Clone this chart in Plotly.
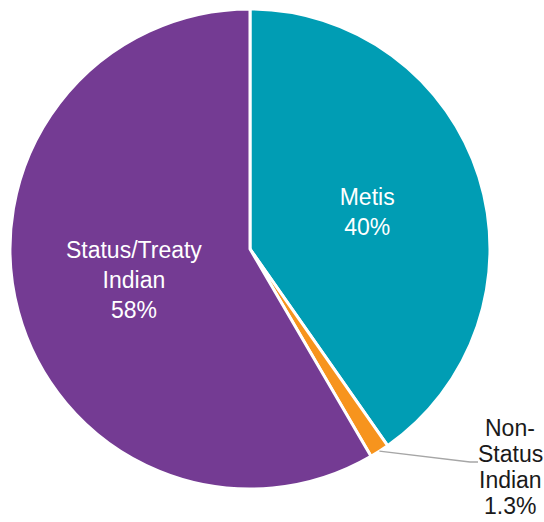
import math
import plotly.graph_objects as go

# Share of respondents by identity group
labels = ["Metis", "Non-Status Indian", "Status/Treaty Indian"]
display_labels = ["Metis", "Non-<br>Status<br>Indian", "Status/Treaty<br>Indian"]
values = [40, 1.3, 58]
colors = ["#009DB4", "#F7941D", "#743B93"]

W, H = 544, 522
cx, cy, r = 250, 249, 240
FONT = "Liberation Sans, Arial, sans-serif"

texts = [f"{d}<br>{v:g}%" for d, v in zip(display_labels, values)]
inside_text = [t if v >= 5 else "" for t, v in zip(texts, values)]

fig = go.Figure(
    go.Pie(
        labels=labels,
        values=values,
        text=inside_text,
        textinfo="text",
        textposition="inside",
        insidetextorientation="horizontal",
        sort=False,
        direction="clockwise",
        rotation=0,
        marker=dict(colors=colors, line=dict(color="white", width=3)),
        textfont=dict(family=FONT, size=23, color="white"),
        showlegend=False,
        hoverinfo="label+value",
        domain=dict(
            x=[(cx - r) / W, (cx + r) / W],
            y=[1 - (cy + r) / H, 1 - (cy - r) / H],
        ),
    )
)

# Outside label with a leader line for the small slice
total = sum(values)
start = sum(values[:1]) / total
mid = (start + values[1] / total / 2) * 2 * math.pi
x0 = cx + r * math.sin(mid)
y0 = cy - r * math.cos(mid)
elbow_x, elbow_y = 470, 462
fig.add_shape(
    type="path",
    path=f"M {x0/W} {1-y0/H} L {elbow_x/W} {1-elbow_y/H} L {(elbow_x+8)/W} {1-elbow_y/H}",
    xref="paper", yref="paper",
    line=dict(color="#A6A6A6", width=1.5),
)
# tighter line spacing than <br> gives, one annotation per line
outside_lines = texts[1].split("<br>")
line_top, line_step = 428, 26
for i, line in enumerate(outside_lines):
    fig.add_annotation(
        x=510 / W, y=1 - (line_top + i * line_step) / H, xref="paper", yref="paper",
        text=line, showarrow=False, align="center",
        xanchor="center", yanchor="middle",
        font=dict(family=FONT, size=23, color="#1a1a1a"),
    )

fig.update_layout(
    width=W, height=H,
    margin=dict(l=0, r=0, t=0, b=0),
    paper_bgcolor="white", plot_bgcolor="white",
)

fig.write_html("out.html")
